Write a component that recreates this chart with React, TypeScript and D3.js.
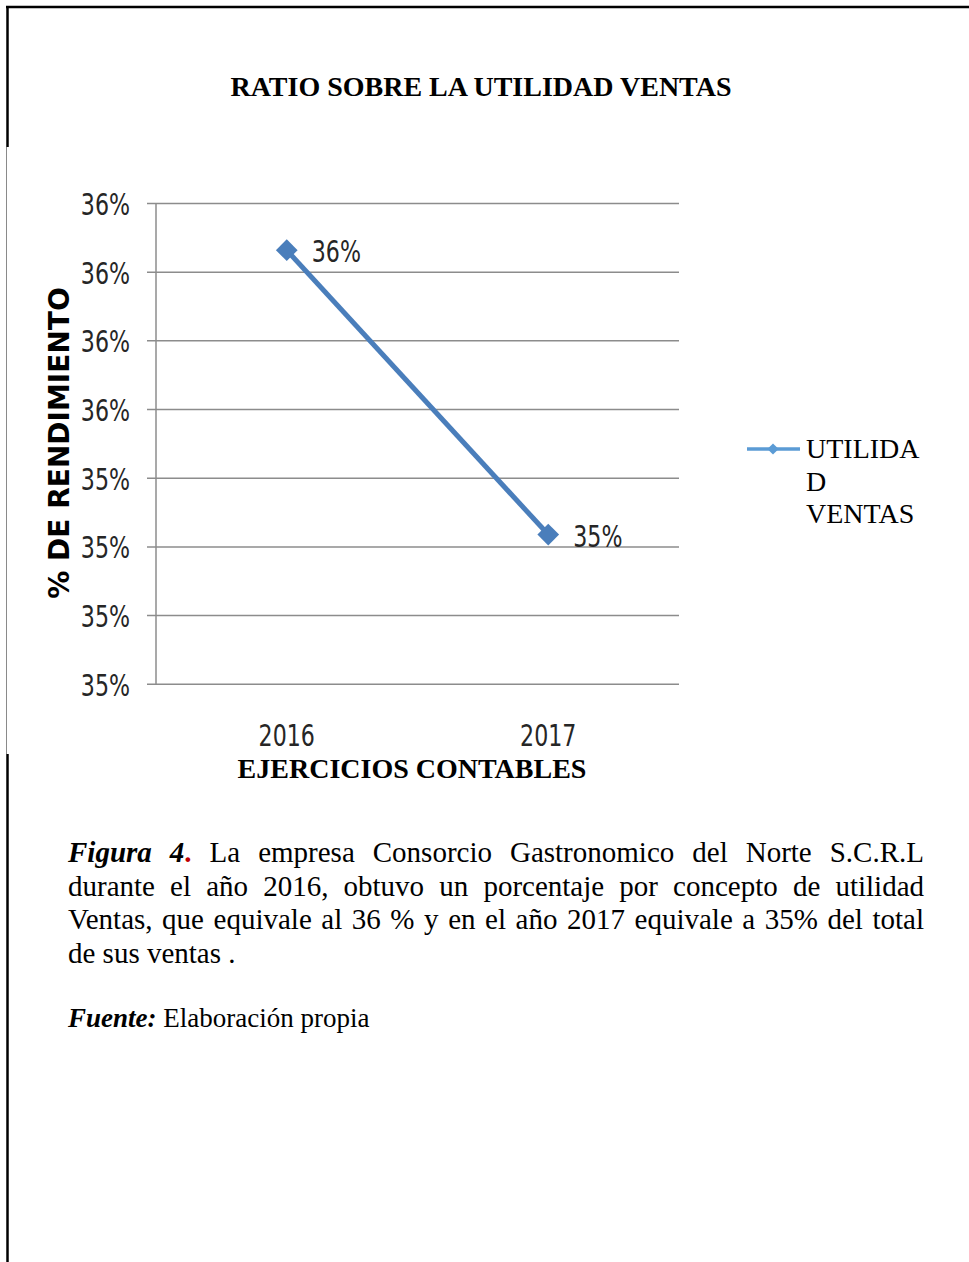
import React, { useEffect, useRef } from "react";
import * as d3 from "d3";

const years = ["2016", "2017"];
const utilidadVentas = [0.35616, 0.35409];
const yTicks = [0.353, 0.3535, 0.354, 0.3545, 0.355, 0.3555, 0.356, 0.3565];
const seriesName = ["UTILIDA", "D", "VENTAS"];
const captionLines = [
  "La empresa Consorcio Gastronomico del Norte S.C.R.L",
  "durante el año 2016, obtuvo un porcentaje por concepto de utilidad",
  "Ventas, que equivale al 36 % y en el año 2017 equivale a 35% del total",
  "de sus ventas .",
];

const W = 969;
const H = 1262;
const NARROW = "'DejaVu Sans Condensed', 'DejaVu Sans', sans-serif";
const SERIF = "'Liberation Serif', 'Times New Roman', serif";
const SX = 0.82;
const fmtPct = (v: number) => `${Math.round(Math.round(v * 10000) / 100)}%`;

export default function App() {
  const ref = useRef<SVGSVGElement | null>(null);

  useEffect(() => {
    const svg = d3.select(ref.current);
    svg.selectAll("*").remove();

    // page borders
    svg.append("line").attr("x1", 6).attr("x2", W).attr("y1", 7).attr("y2", 7).attr("stroke", "#000").attr("stroke-width", 2.5);
    svg.append("line").attr("x1", 7.5).attr("x2", 7.5).attr("y1", 6).attr("y2", 147).attr("stroke", "#000").attr("stroke-width", 2.5);
    svg.append("line").attr("x1", 6.5).attr("x2", 6.5).attr("y1", 147).attr("y2", 754).attr("stroke", "#8a8a8a").attr("stroke-width", 1);
    svg.append("line").attr("x1", 7.5).attr("x2", 7.5).attr("y1", 754).attr("y2", H).attr("stroke", "#000").attr("stroke-width", 2.5);

    // title
    svg.append("text").attr("x", 481).attr("y", 96).attr("text-anchor", "middle")
      .attr("font-family", SERIF).attr("font-weight", "bold").attr("font-size", 28)
      .text("RATIO SOBRE LA UTILIDAD VENTAS");

    const left = 156, right = 679;
    const x = d3.scaleBand<string>().domain(years).range([left, right]).padding(0);
    const y = d3.scaleLinear().domain([0.353, 0.3565]).range([684.3, 203.5]);

    // gridlines
    const g = svg.append("g");
    g.selectAll("line.grid").data(yTicks).join("line")
      .attr("x1", 147).attr("x2", right)
      .attr("y1", (d) => y(d)).attr("y2", (d) => y(d))
      .attr("stroke", "#8c8c8c").attr("stroke-width", 1.5);
    g.append("line").attr("x1", left).attr("x2", left).attr("y1", y(0.3565)).attr("y2", y(0.353))
      .attr("stroke", "#8c8c8c").attr("stroke-width", 1.5);

    // y tick labels
    g.selectAll("text.yt").data(yTicks).join("text")
      .attr("transform", (d) => `translate(130,${y(d) + 11.5}) scale(${SX},1)`)
      .attr("text-anchor", "end")
      .attr("font-family", NARROW).attr("font-size", 30).attr("fill", "#262626")
      .text((d) => fmtPct(d));

    // x tick labels
    g.selectAll("text.xt").data(years).join("text")
      .attr("transform", (d) => `translate(${(x(d) as number) + x.bandwidth() / 2},746) scale(${SX},1)`)
      .attr("text-anchor", "middle")
      .attr("font-family", NARROW).attr("font-size", 30).attr("fill", "#262626")
      .text((d) => d);

    // axis titles
    svg.append("text").attr("transform", "translate(69,443) rotate(-90)").attr("text-anchor", "middle")
      .attr("font-family", "'DejaVu Sans', Verdana, sans-serif").attr("font-weight", "bold").attr("font-size", 28)
      .text("% DE RENDIMIENTO");
    svg.append("text").attr("x", 412).attr("y", 778).attr("text-anchor", "middle")
      .attr("font-family", SERIF).attr("font-weight", "bold").attr("font-size", 28)
      .text("EJERCICIOS CONTABLES");

    // series
    const pts = years.map((yr, i) => ({ yr, v: utilidadVentas[i] }));
    const line = d3.line<{ yr: string; v: number }>()
      .x((d) => (x(d.yr) as number) + x.bandwidth() / 2)
      .y((d) => y(d.v));
    const color = "#4a7ebb";
    g.append("path").datum(pts).attr("d", line).attr("fill", "none").attr("stroke", color).attr("stroke-width", 5);
    const diamond = d3.symbol().type(d3.symbolDiamond2).size(300);
    g.selectAll("path.m").data(pts).join("path")
      .attr("d", diamond)
      .attr("transform", (d) => `translate(${(x(d.yr) as number) + x.bandwidth() / 2},${y(d.v)})`)
      .attr("fill", color);
    g.selectAll("text.dl").data(pts).join("text")
      .attr("transform", (d) => `translate(${(x(d.yr) as number) + x.bandwidth() / 2 + 25},${y(d.v) + 12}) scale(${SX},1)`)
      .attr("font-family", NARROW).attr("font-size", 30).attr("fill", "#262626")
      .text((d) => fmtPct(d.v));

    // legend
    const lc = "#5b9bd5";
    svg.append("line").attr("x1", 747).attr("x2", 800).attr("y1", 449).attr("y2", 449).attr("stroke", lc).attr("stroke-width", 3.5);
    svg.append("path").attr("d", d3.symbol().type(d3.symbolDiamond2).size(80)).attr("transform", "translate(773,449)").attr("fill", lc);
    svg.selectAll("text.lg").data(seriesName).join("text")
      .attr("x", 806).attr("y", (_d, i) => 458 + i * 32.5)
      .attr("font-family", SERIF).attr("font-size", 28).attr("fill", "#000")
      .text((d) => d);

    // caption (justified)
    const capLeft = 68, capRight = 924, capSize = 29;
    const capY = [862, 895.5, 929, 962.5];
    captionLines.forEach((ln, i) => {
      const t = svg.append("text").attr("x", capLeft).attr("y", capY[i])
        .attr("font-family", SERIF).attr("font-size", capSize).attr("fill", "#000");
      if (i === 0) {
        t.append("tspan").attr("font-weight", "bold").attr("font-style", "italic").text("Figura 4");
        t.append("tspan").attr("font-weight", "bold").attr("fill", "#c00000").text(".");
        t.append("tspan").text(" " + ln);
      } else {
        t.text(ln);
      }
      if (i < captionLines.length - 1) {
        const node = t.node() as SVGTextElement;
        const natural = node.getComputedTextLength();
        const full = (i === 0 ? "Figura 4. " + ln : ln);
        const gaps = full.split(" ").length - 1;
        if (gaps > 0) {
          const ws = (capRight - capLeft - natural) / gaps;
          t.attr("word-spacing", ws);
        }
      }
    });
    const f = svg.append("text").attr("x", 68).attr("y", 1027)
      .attr("font-family", SERIF).attr("font-size", 27).attr("fill", "#000");
    f.append("tspan").attr("font-weight", "bold").attr("font-style", "italic").text("Fuente:");
    f.append("tspan").text(" Elaboración propia");
  }, []);

  return (
    <svg
      ref={ref}
      width={W}
      height={H}
      style={{ position: "absolute", left: 0, top: 0, background: "#fff" }}
    />
  );
}
